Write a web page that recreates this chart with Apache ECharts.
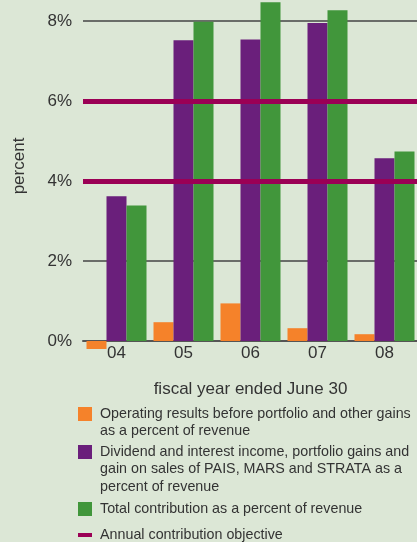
<!DOCTYPE html>
<html>
<head>
<meta charset="utf-8">
<script src="https://cdn.jsdelivr.net/npm/echarts@6/dist/echarts.min.js"></script>
<style>
  html, body { margin: 0; padding: 0; background: #dce7d6; }
  #chart { width: 417px; height: 542px; }
</style>
</head>
<body>
<div id="chart"></div>
<script>
// fiscal years (ended June 30)
const years = ['04', '05', '06', '07', '08'];
// percent of revenue
const operating = [-0.2, 0.47, 0.94, 0.32, 0.17];
const portfolio = [3.62, 7.52, 7.54, 7.95, 4.57];
const total = [3.39, 7.98, 8.47, 8.27, 4.74];
// annual contribution objective band
const objective = [4, 6];
// plain gridlines
const gridTicks = [2, 8];

const names = [
  'Operating results before portfolio and other gains\nas a percent of revenue',
  'Dividend and interest income, portfolio gains and\ngain on sales of PAIS, MARS and STRATA as a\npercent of revenue',
  'Total contribution as a percent of revenue',
  'Annual contribution objective'
];
const colors = ['#f5822a', '#6a1f7b', '#41963b', '#9b0055'];

const LH = 17.5;
const axisFont = { color: '#333', fontSize: 17, fontFamily: 'Liberation Sans' };

// one legend per entry; blank lines on top keep the icon level with the first line
function legendAt(i, iconTop, iconH) {
  const lines = names[i].split('\n').length;
  const blank = lines - 1;
  const total = (lines + blank) * LH;
  const top = iconTop + Math.min(0, iconH / 2 - total / 2);
  return {
    left: 78,
    top: top,
    padding: 0,
    orient: 'vertical',
    selectedMode: false,
    itemWidth: 14,
    itemHeight: iconH,
    formatter: name => '\n'.repeat(blank) + name,
    textStyle: {
      color: '#333', fontSize: 14.3, fontFamily: 'Liberation Sans',
      lineHeight: LH, padding: [0, 0, 0, 3]
    },
    data: [{ name: names[i], icon: 'rect', itemStyle: { color: colors[i] } }]
  };
}

const chart = echarts.init(document.getElementById('chart'));
chart.setOption({
  animation: false,
  backgroundColor: '#dce7d6',
  grid: { left: 83, top: -59, width: 335, height: 480, containLabel: false, outerBoundsMode: 'none' },
  legend: [
    legendAt(0, 407, 14),
    legendAt(1, 445, 14),
    legendAt(2, 502, 14),
    legendAt(3, 533, 4)
  ],
  xAxis: {
    type: 'category',
    data: years,
    offset: -80,
    axisTick: { show: false },
    axisLine: { onZero: false, lineStyle: { color: '#555', width: 2 } },
    axisLabel: Object.assign({ margin: 4 }, axisFont),
    name: 'fiscal year ended June 30',
    nameLocation: 'middle',
    nameGap: 40,
    nameTextStyle: axisFont
  },
  yAxis: {
    type: 'value',
    min: -2,
    max: 10,
    interval: 2,
    splitLine: { show: false },
    axisLine: { show: false },
    axisTick: { show: false },
    axisLabel: Object.assign({
      margin: 11,
      formatter: v => (v >= 0 && v <= 8) ? v + '%' : ''
    }, axisFont),
    name: 'percent',
    nameLocation: 'middle',
    nameRotate: 90,
    nameGap: 55,
    nameTextStyle: Object.assign({ padding: [0, 0, 0, 30] }, axisFont)
  },
  series: [
    {
      name: names[0], type: 'bar', data: operating, barWidth: 20, barGap: '0%',
      itemStyle: { color: colors[0] },
      markLine: {
        z: 1, silent: true, symbol: 'none', label: { show: false },
        lineStyle: { color: '#444', width: 1.5, type: 'solid' },
        data: gridTicks.map(v => ({ yAxis: v }))
      }
    },
    { name: names[1], type: 'bar', data: portfolio, barWidth: 20, barGap: '0%', itemStyle: { color: colors[1] } },
    { name: names[2], type: 'bar', data: total, barWidth: 20, barGap: '0%', itemStyle: { color: colors[2] } },
    {
      name: names[3], type: 'line', data: [], itemStyle: { color: colors[3] },
      markLine: {
        silent: true, symbol: 'none', label: { show: false },
        lineStyle: { color: colors[3], width: 5, type: 'solid' },
        data: objective.map(v => ({ yAxis: v }))
      }
    }
  ]
});
</script>
</body>
</html>
